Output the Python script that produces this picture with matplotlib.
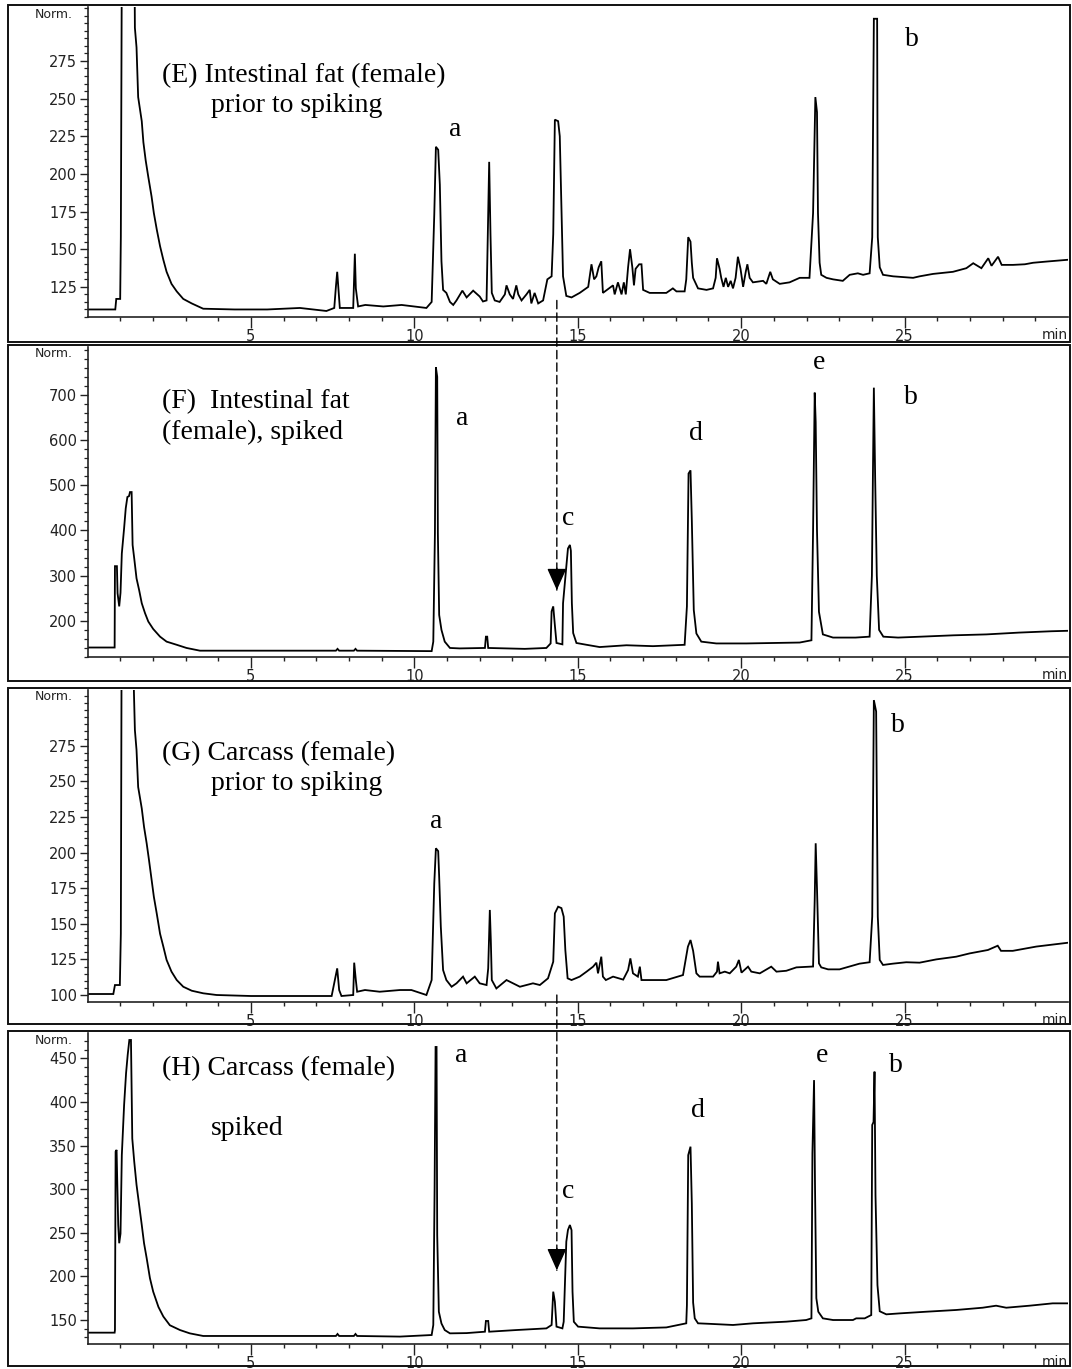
import matplotlib
matplotlib.use("Agg")
import matplotlib.pyplot as plt
from matplotlib.patches import Rectangle, ConnectionPatch
from matplotlib.ticker import FixedLocator, MultipleLocator

# ---------------- data (retention time in min, detector signal "Norm.") -------------
e_time = [0.0, 0.85, 0.88, 1.0, 1.02, 1.06, 1.42, 1.45, 1.50, 1.55, 1.66, 1.71, 1.78, 1.86,
          1.96, 2.03, 2.12, 2.22, 2.32, 2.42, 2.57, 2.73, 2.93, 3.19, 3.54, 4.5, 5.5, 6.5,
          7.31, 7.55, 7.60, 7.64, 7.67, 7.72, 8.13, 8.18, 8.21, 8.28, 8.5, 9.05, 9.61,
          10.37, 10.53, 10.61, 10.66, 10.73, 10.78, 10.83, 10.88, 10.98, 11.09, 11.19,
          11.29, 11.47, 11.60, 11.80, 12.00, 12.10, 12.21, 12.24, 12.29, 12.33, 12.37,
          12.46, 12.61, 12.77, 12.82, 12.92, 13.02, 13.12, 13.18, 13.28, 13.43, 13.53,
          13.58, 13.68, 13.79, 13.94, 14.07, 14.20, 14.25, 14.30, 14.40, 14.45, 14.50,
          14.55, 14.65, 14.81, 15.06, 15.32, 15.42, 15.50, 15.57, 15.64, 15.72, 15.77,
          16.08, 16.13, 16.23, 16.34, 16.41, 16.47, 16.54, 16.60, 16.67, 16.72, 16.77,
          16.88, 16.95, 17.00, 17.20, 17.71, 17.91, 18.02, 18.27, 18.32, 18.38, 18.45,
          18.49, 18.53, 18.68, 18.94, 19.14, 19.22, 19.26, 19.34, 19.39, 19.46, 19.53,
          19.60, 19.68, 19.75, 19.83, 19.90, 19.98, 20.06, 20.14, 20.19, 20.26, 20.36,
          20.67, 20.77, 20.89, 20.97, 21.18, 21.48, 21.79, 22.09, 22.20, 22.27, 22.32,
          22.35, 22.40, 22.45, 22.61, 22.81, 23.11, 23.32, 23.57, 23.73, 23.93, 24.01,
          24.06, 24.16, 24.18, 24.24, 24.34, 24.65, 25.26, 25.46, 25.87, 26.48, 26.89,
          27.10, 27.35, 27.56, 27.66, 27.86, 27.97, 28.32, 28.68, 28.93, 29.34, 30.0]
e_signal = [110, 110, 117, 117, 158, 400, 400, 297, 284, 251, 235, 221, 209, 198,
            185, 174, 163, 152, 143, 135, 127, 122, 117, 114, 110.5, 110, 110, 111,
            109, 111, 125, 135, 126, 111, 111, 147, 124, 112, 113, 112, 113,
            111, 115, 173, 218, 216, 193, 142, 123, 121, 115, 113,
            116, 122.5, 118, 122.5, 118.6, 115.3, 116, 150, 208, 160, 121,
            116, 115, 120, 126, 120, 117, 126, 120, 116, 120, 123,
            114, 121, 114, 116, 130, 132, 160, 236, 235, 225, 179,
            132, 119, 118, 121, 125, 140, 130, 132, 138, 142, 121,
            126, 120, 128, 120, 128, 120, 138, 150, 138, 126, 137,
            140, 140, 123, 121, 121, 124, 122, 122, 130, 158, 155,
            141, 131, 124, 123, 124, 131, 144, 137, 131, 125, 131,
            125, 129, 124, 131, 145, 137, 125, 135, 140, 131, 128,
            129, 127, 135, 130, 127, 128, 131, 131, 174, 251, 241,
            174, 141, 133, 131, 130, 129, 133, 134, 133, 134, 158,
            303, 303, 158, 138, 133, 132, 131, 132, 133.6, 135, 137.4,
            140.7, 137.4, 144, 139, 145, 139.6, 139.6, 140, 141, 141.8, 143]

f_time = [0.0, 0.83, 0.84, 0.90, 0.92, 0.97, 1.01, 1.05, 1.12, 1.17, 1.22, 1.27, 1.30,
          1.35, 1.38, 1.43, 1.50, 1.58, 1.66, 1.76, 1.86, 2.01, 2.22, 2.42, 2.73, 3.03,
          3.44, 7.60, 7.65, 7.70, 8.15, 8.20, 8.25, 10.53, 10.58, 10.63, 10.66, 10.70,
          10.72, 10.76, 10.83, 10.93, 11.09, 11.39, 12.16, 12.19, 12.23, 12.26, 13.38,
          14.04, 14.17, 14.20, 14.25, 14.30, 14.35, 14.53, 14.55, 14.65, 14.70, 14.76,
          14.79, 14.82, 14.86, 14.96, 15.27, 15.67, 16.49, 17.30, 18.27, 18.34, 18.39,
          18.45, 18.49, 18.55, 18.63, 18.78, 19.24, 20.16, 21.79, 22.15, 22.20, 22.25,
          22.28, 22.32, 22.38, 22.50, 22.81, 23.50, 23.93, 24.00, 24.03, 24.06, 24.10,
          24.15, 24.22, 24.35, 24.80, 25.50, 26.50, 27.50, 28.50, 29.50, 30.0]
f_signal = [141, 141, 321, 321, 261, 232, 262, 349, 405, 449, 474, 476, 485,
            485, 368, 338, 294, 268, 239, 217, 198.5, 182, 165, 154, 147, 140,
            134, 134, 138, 134, 134, 138, 134, 133, 154, 394, 761, 740,
            394, 213, 180, 154, 140, 139, 140, 165, 165, 140, 138,
            140, 150, 221, 232, 190, 151, 148, 239, 320, 360, 368,
            355, 239, 173, 151, 147, 142, 146, 144, 147, 232, 526,
            533, 423, 224, 172, 154, 150, 150, 152, 157, 400, 705,
            640, 400, 220, 170, 163, 163, 165, 300, 515, 716, 515,
            300, 180, 165, 163, 165, 168, 170, 174, 177, 178]

g_time = [0.0, 0.79, 0.84, 0.99, 1.02, 1.05, 1.40, 1.42, 1.45, 1.50, 1.55, 1.66, 1.73,
          1.81, 1.88, 1.96, 2.03, 2.12, 2.22, 2.32, 2.42, 2.57, 2.73, 2.93, 3.19, 3.54,
          3.95, 5.0, 7.47, 7.57, 7.64, 7.70, 7.77, 8.13, 8.16, 8.21, 8.25, 8.49, 8.94,
          9.56, 9.91, 10.37, 10.53, 10.61, 10.66, 10.73, 10.76, 10.81, 10.88, 10.98,
          11.14, 11.29, 11.49, 11.60, 11.85, 12.00, 12.21, 12.26, 12.31, 12.34, 12.37,
          12.51, 12.82, 13.02, 13.23, 13.63, 13.84, 14.09, 14.25, 14.30, 14.40, 14.50,
          14.57, 14.62, 14.69, 14.81, 15.06, 15.27, 15.47, 15.57, 15.62, 15.72, 15.77,
          15.86, 16.08, 16.39, 16.54, 16.61, 16.69, 16.84, 16.90, 16.95, 17.15, 17.71,
          18.22, 18.37, 18.45, 18.53, 18.63, 18.73, 19.14, 19.26, 19.29, 19.34, 19.50,
          19.65, 19.85, 19.93, 20.01, 20.21, 20.31, 20.57, 20.92, 21.08, 21.38, 21.69,
          22.20, 22.25, 22.28, 22.32, 22.38, 22.45, 22.66, 23.01, 23.32, 23.62, 23.93,
          24.01, 24.06, 24.13, 24.18, 24.24, 24.34, 24.64, 25.05, 25.46, 25.97, 26.58,
          26.99, 27.55, 27.85, 27.95, 28.31, 29.03, 30.0]
g_signal = [100.7, 100.7, 107, 107, 143, 400, 400, 313, 286, 272, 246, 231, 218,
            206.5, 195, 181, 169, 157, 143, 134, 124.6, 116.4, 110.5, 105.8, 103, 101.2,
            100, 99.3, 99.3, 110.5, 118.7, 103.5, 99.3, 100, 122.7, 110.5, 102.3, 103.5, 102.3,
            103.5, 103.5, 100, 110.5, 178.4, 203, 201, 183, 148, 117.5, 110.5,
            105.8, 108.2, 112.9, 108.2, 112.9, 108.2, 107, 118.7, 159.7, 138.6, 110.5,
            104.6, 110.5, 108.2, 105.8, 108.2, 107, 111.7, 123.4, 157.3, 162, 161,
            155, 131.6, 111.7, 110.5, 112.9, 116.4, 119.9, 122.7, 115.2, 126.9, 112.9,
            110.5, 112.9, 110.8, 117.5, 125.7, 115.2, 112.9, 119.9, 110.5, 110.5, 110.5,
            114, 133.9, 138.6, 131, 115.2, 112.9, 112.9, 116.4, 123.4, 115.2, 116.4,
            115.2, 119.9, 124.6, 115.7, 119.9, 116.4, 115.2, 119.9, 116.4, 117, 119.4,
            120, 166.7, 206.5, 174.9, 122.2, 119.4, 118, 118, 120, 122, 123,
            155, 307, 299, 155, 124.6, 121.1, 122, 123, 122.7, 125, 126.9,
            129.2, 131.6, 134.6, 131, 131, 134, 136.7]

h_time = [0.0, 0.83, 0.84, 0.86, 0.89, 0.91, 0.94, 0.97, 1.01, 1.05, 1.12, 1.18, 1.23,
          1.28, 1.33, 1.37, 1.43, 1.50, 1.58, 1.66, 1.73, 1.81, 1.91, 2.01, 2.17, 2.32,
          2.52, 2.83, 3.13, 3.54, 7.60, 7.65, 7.70, 8.15, 8.20, 8.25, 9.56, 10.53, 10.58,
          10.62, 10.65, 10.68, 10.70, 10.75, 10.83, 10.93, 11.09, 11.60, 12.16, 12.19,
          12.26, 12.29, 13.12, 14.04, 14.20, 14.25, 14.30, 14.35, 14.53, 14.57, 14.65,
          14.70, 14.76, 14.81, 14.84, 14.88, 15.01, 15.67, 16.69, 17.71, 18.32, 18.34,
          18.38, 18.45, 18.49, 18.53, 18.58, 18.68, 19.04, 19.75, 20.36, 21.38, 21.99,
          22.15, 22.18, 22.23, 22.26, 22.30, 22.36, 22.50, 22.81, 23.42, 23.52, 23.78,
          23.98, 24.01, 24.05, 24.08, 24.11, 24.17, 24.24, 24.44, 24.85, 25.66, 26.58,
          27.39, 27.80, 28.11, 28.82, 29.53, 30.0]
h_signal = [135.5, 135.5, 138.5, 343, 345, 309, 259, 238, 249, 339, 396.5, 433, 454,
            471, 471, 358, 331.5, 305, 282, 259, 238, 221, 198, 182.5, 165, 154,
            144, 138.5, 134.7, 131.7, 131.7, 134, 131.7, 131.7, 134, 131.7, 131, 132.8, 144.3,
            300, 463, 463, 247.5, 159.5, 146, 138.5, 134.7, 135, 136.6, 148.9,
            148.9, 136.6, 138.5, 140.4, 144.3, 182.5, 171, 142.4, 140.4, 148, 239.8,
            253.2, 258.9, 253, 182.5, 148, 142.4, 140.4, 140.4, 141.5, 146.2, 167,
            339, 348.7, 283.8, 170, 151.9, 146.2, 145.6, 144.3, 146.2, 148.1, 150,
            151.9, 341, 425, 301, 175, 159.5, 151.9, 150, 150, 151.9, 151.9,
            155.7, 373.6, 377, 434.7, 293, 190, 160, 156.5, 157.6, 159.5, 161.5,
            164.1, 166.4, 164.1, 166.4, 169.1, 169.1]

panel_titles = [["(E) Intestinal fat (female)", "prior to spiking"],
                ["(F)  Intestinal fat", "(female), spiked"],
                ["(G) Carcass (female)", "prior to spiking"],
                ["(H) Carcass (female)", "spiked"]]
e_labels = ["a", "b"]
e_label_pos = [(11.24, 225), (25.21, 285)]
f_labels = ["a", "c", "d", "e", "b"]
f_label_pos = [(11.45, 633), (14.72, 412), (18.61, 600), (22.37, 758), (25.18, 679)]
g_labels = ["a", "b"]
g_label_pos = [(10.66, 217), (24.79, 284.6)]
h_labels = ["a", "c", "d", "e", "b"]
h_label_pos = [(11.42, 446), (14.72, 290), (18.67, 383), (22.49, 446), (24.72, 434)]

y_major = [[125, 150, 175, 200, 225, 250, 275],
           [200, 300, 400, 500, 600, 700],
           [100, 125, 150, 175, 200, 225, 250, 275],
           [150, 200, 250, 300, 350, 400, 450]]
x_major = [5, 10, 15, 20, 25]
x_minor = list(range(1, 30))

arrow_time = 14.36

# ---------------- layout ----------------
W, H = 1072, 1369
fig = plt.figure(figsize=(W / 100, H / 100), dpi=100)

serif = ["Liberation Serif", "DejaVu Serif"]
sans = ["DejaVu Sans"]

boxes = [(8, 5, 1070, 342), (8, 345, 1070, 681), (8, 688, 1070, 1024), (8, 1031, 1070, 1366)]
axes_px = [(87.5, 7, 1068, 317), (87.5, 347, 1068, 657), (87.5, 690, 1068, 1001.7),
           (87.5, 1033, 1068, 1344)]
ylims = [(105, 310.8), (120, 806), (95.3, 314.1), (122.5, 479)]
y_minor_step = [5, 20, 5, 10]
title_pos = [[(162, 82), (211, 112)], [(162, 408), (162, 439)],
             [(162, 760), (211, 790)], [(162, 1075), (211, 1135)]]

traces = [(e_time, e_signal), (f_time, f_signal), (g_time, g_signal), (h_time, h_signal)]
labels = [(e_labels, e_label_pos), (f_labels, f_label_pos), (g_labels, g_label_pos),
          (h_labels, h_label_pos)]

axes = []
for i in range(4):
    bx0, by0, bx1, by1 = boxes[i]
    fig.add_artist(Rectangle((bx0 / W, 1 - by1 / H), (bx1 - bx0) / W, (by1 - by0) / H,
                             transform=fig.transFigure, fill=False, lw=1.4,
                             edgecolor="#111111"))
    x0, y0, x1, y1 = axes_px[i]
    ax = fig.add_axes([x0 / W, 1 - y1 / H, (x1 - x0) / W, (y1 - y0) / H])
    ax.patch.set_alpha(0)
    t, s = traces[i]
    ax.plot(t, s, color="black", lw=1.3, solid_joinstyle="miter")
    ax.set_xlim(0, 30)
    ax.set_ylim(*ylims[i])
    for sp in ("top", "right"):
        ax.spines[sp].set_visible(False)
    for sp in ("left", "bottom"):
        ax.spines[sp].set_linewidth(1.2)
        ax.spines[sp].set_color("#222222")
    ax.xaxis.set_major_locator(FixedLocator(x_major))
    ax.xaxis.set_minor_locator(FixedLocator(x_minor))
    ax.yaxis.set_major_locator(FixedLocator(y_major[i]))
    ax.yaxis.set_minor_locator(MultipleLocator(y_minor_step[i]))
    ax.tick_params(axis="x", which="major", direction="out", length=8, width=1.0,
                   pad=0.5, labelsize=10.5, colors="#222222")
    ax.tick_params(axis="x", which="minor", direction="out", length=3, width=1.0,
                   colors="#222222")
    ax.tick_params(axis="y", which="major", direction="out", length=6, width=1.0,
                   pad=1.5, labelsize=10.5, colors="#222222")
    ax.tick_params(axis="y", which="minor", direction="out", length=3, width=0.9,
                   colors="#222222")
    for lab in ax.get_xticklabels() + ax.get_yticklabels():
        lab.set_family(sans)
    ax.annotate("Norm.", xy=(0, 1), xycoords="axes fraction", xytext=(-15, -7),
                textcoords="offset pixels", ha="right", va="center", fontsize=9,
                family=sans, color="#222222")
    ax.annotate("min", xy=(1, 0), xycoords="axes fraction", xytext=(0, -11),
                textcoords="offset pixels", ha="right", va="top", fontsize=10,
                family=sans, color="#222222")
    for (txt, (px, py)) in zip(panel_titles[i], title_pos[i]):
        fig.text(px / W, 1 - py / H, txt, ha="left", va="baseline", fontsize=20,
                 family=serif)
    for txt, (lx, ly) in zip(*labels[i]):
        ax.text(lx, ly, txt, ha="center", va="baseline", fontsize=20, family=serif)
    axes.append(ax)

# dashed arrows marking the spiked analyte position
for top_ax, bot_ax, y_start, y_tip in [(axes[0], axes[1], 116, 268),
                                       (axes[2], axes[3], 100, 207)]:
    con = ConnectionPatch(xyA=(arrow_time, y_start), coordsA=top_ax.transData,
                          xyB=(arrow_time, y_tip), coordsB=bot_ax.transData,
                          arrowstyle="-", linestyle=(0, (6, 3)), lw=1.0,
                          color="black", zorder=5)
    fig.add_artist(con)
    bot_ax.annotate("", xy=(arrow_time, y_tip), xycoords="data",
                    xytext=(0, 22), textcoords="offset pixels",
                    arrowprops=dict(arrowstyle="-|>,head_length=0.85,head_width=0.38",
                                    mutation_scale=16, lw=1.0, color="black",
                                    shrinkA=0, shrinkB=0))

fig.savefig("out.png", dpi=100)
